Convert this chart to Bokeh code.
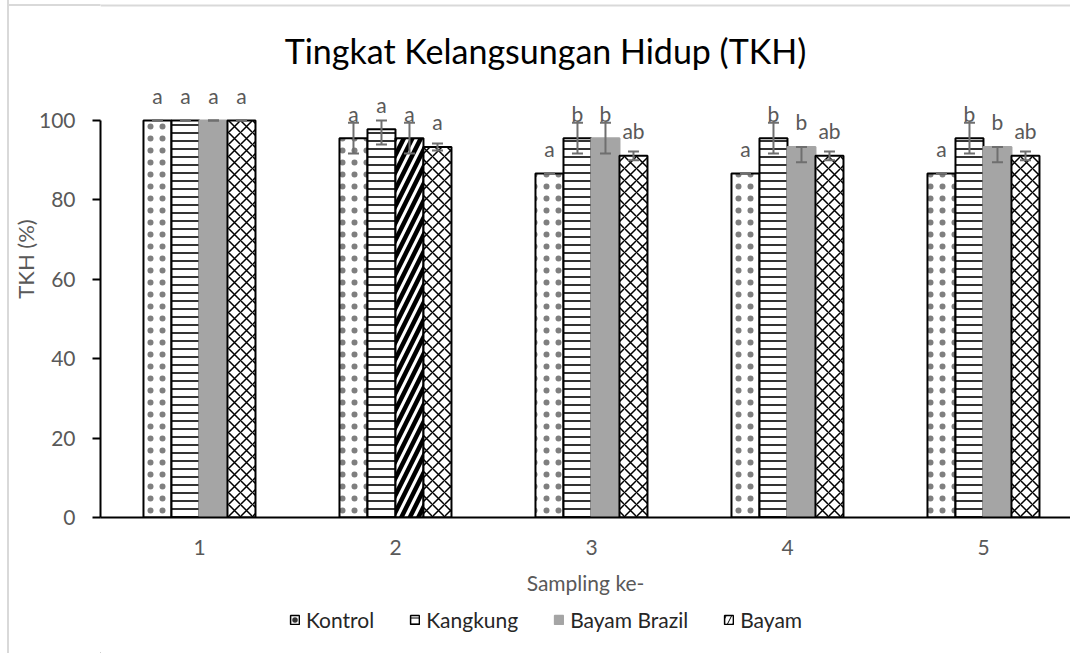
from bokeh.plotting import figure
from bokeh.layouts import column
from bokeh.models import (ColumnDataSource, Range1d, FixedTicker, Whisker, TeeHead,
                          Legend, LegendItem, Label, Span)
from bokeh.embed import file_html
from bokeh.resources import INLINE
from bokeh.core.properties import value

# ---------------- data ----------------
samplings = [1, 2, 3, 4, 5]
series_names = ["Kontrol", "Kangkung", "Bayam Brazil", "Bayam"]

kontrol = [100, 95.56, 86.67, 86.67, 86.67]
kangkung = [100, 97.78, 95.56, 95.56, 95.56]
bayam_brazil = [100, 95.56, 95.56, 93.33, 93.33]
bayam = [100, 93.33, 91.11, 91.11, 91.11]

kontrol_err_plus = [0, 3.85, 0, 0, 0]
kontrol_err_minus = [0, 3.85, 0, 0, 0]
kangkung_err_plus = [0, 3.85, 3.85, 3.85, 3.85]
kangkung_err_minus = [0, 3.85, 3.85, 3.85, 3.85]
bayam_brazil_err_plus = [0, 3.85, 3.85, 0, 0]
bayam_brazil_err_minus = [0, 3.85, 3.85, 3.85, 3.85]
bayam_err_plus = [0, 0.9, 1.1, 1.1, 1.1]
bayam_err_minus = [0, 0.9, 1.1, 1.1, 1.1]

kontrol_letters = ["a", "a", "a", "a", "a"]
kangkung_letters = ["a", "a", "b", "b", "b"]
bayam_brazil_letters = ["a", "a", "b", "b", "b"]
bayam_letters = ["a", "a", "ab", "ab", "ab"]

y_ticks = [0, 20, 40, 60, 80, 100]
AXIS_MAX = 100

title_text = "Tingkat Kelangsungan Hidup (TKH)"
x_title = "Sampling ke-"
y_title = "TKH (%)"

# ---------------- styling ----------------
FONT = "Lato"
TXT = "#595959"
ERR = "#6f6f6f"
GRAY = "#a5a5a5"
EDGE = "#d9d9d9"
BAR_W = 28 / 196
PX_PER_UNIT = 3.97
FRAME_BOTTOM = 517
FRAME_LEFT = 100

p = figure(width=1070, height=605, output_backend="svg", toolbar_location=None,
           x_range=Range1d(0.495, 0.495 + (1070 - FRAME_LEFT) / 196),
           y_range=Range1d(0, FRAME_BOTTOM / PX_PER_UNIT),
           min_border_left=FRAME_LEFT, min_border_right=0, min_border_top=0,
           min_border_bottom=605 - FRAME_BOTTOM)
p.outline_line_color = None
p.grid.visible = False
p.background_fill_color = "white"
p.border_fill_alpha = 0

# top edge of the chart-area border (inside the frame part)
p.add_layout(Span(location=(FRAME_BOTTOM - 5) / PX_PER_UNIT, dimension="width",
                  line_color=EDGE, line_width=2))

vals = [kontrol, kangkung, bayam_brazil, bayam]
eplus = [kontrol_err_plus, kangkung_err_plus, bayam_brazil_err_plus, bayam_err_plus]
eminus = [kontrol_err_minus, kangkung_err_minus, bayam_brazil_err_minus, bayam_err_minus]
letters = [kontrol_letters, kangkung_letters, bayam_brazil_letters, bayam_letters]
offsets = [-1.5, -0.5, 0.5, 1.5]

n = len(samplings)
styles = [
    dict(fill=["white"] * n, hatch=["."] * n, line=["black"] * n, scale=12, weight=0.3, alpha=0.5),
    dict(fill=["white"] * n, hatch=["-"] * n, line=["black"] * n, scale=8, weight=1.6, alpha=1.0),
    dict(fill=[GRAY, "white", GRAY, GRAY, GRAY], hatch=[" ", "/", " ", " ", " "],
         line=[GRAY, "black", GRAY, GRAY, GRAY], scale=17, weight=4.5, alpha=1.0),
    dict(fill=["white"] * n, hatch=["x"] * n, line=["black"] * n, scale=12, weight=1.5, alpha=1.0),
]
legend_styles = [
    dict(fill="white", hatch=value("."), line="black", scale=11, weight=0.5, alpha=0.8),
    dict(fill="white", hatch=value("-"), line="black", scale=6, weight=1, alpha=1.0),
    dict(fill=GRAY, hatch=value(" "), line=GRAY, scale=8, weight=1, alpha=1.0),
    dict(fill="white", hatch=value("/"), line="black", scale=11, weight=1, alpha=1.0),
]

for i, name in enumerate(series_names):
    xs = [s + offsets[i] * BAR_W for s in samplings]
    st = styles[i]
    src = ColumnDataSource(dict(x=xs, top=vals[i], fill=st["fill"], hatch=st["hatch"],
                                line=st["line"]))
    p.vbar(x="x", top="top", bottom=0, width=BAR_W, source=src,
           fill_color="fill", line_color="line", line_width=2,
           hatch_pattern="hatch", hatch_color="black", hatch_alpha=st["alpha"],
           hatch_scale=st["scale"], hatch_weight=st["weight"])

    up = [min(v + e, AXIS_MAX) for v, e in zip(vals[i], eplus[i])]
    lo = [v - e for v, e in zip(vals[i], eminus[i])]
    esrc = ColumnDataSource(dict(x=xs, upper=up, lower=lo))
    w = Whisker(base="x", upper="upper", lower="lower", dimension="height", source=esrc,
                line_color=ERR, line_width=2, level="annotation",
                upper_head=TeeHead(size=11, line_color=ERR, line_width=2),
                lower_head=TeeHead(size=11, line_color=ERR, line_width=2))
    p.add_layout(w)

    tsrc = ColumnDataSource(dict(x=xs, y=vals[i], t=letters[i]))
    p.text(x="x", y="y", text="t", source=tsrc, y_offset=-25,
           text_align="center", text_baseline="middle",
           text_font=value(FONT), text_font_size="21px", text_color=TXT)

# title
p.add_layout(Label(x=0.495 + (545 - FRAME_LEFT) / 196, y=(FRAME_BOTTOM - 50) / PX_PER_UNIT,
                   text=title_text, text_align="center", text_baseline="middle",
                   text_font=FONT, text_font_size="34px", text_color="#000000"))

# axes
xa = p.xaxis[0]
xa.ticker = FixedTicker(ticks=samplings)
xa.major_tick_out = 0
xa.major_tick_in = 0
xa.minor_tick_out = 0
xa.minor_tick_in = 0
xa.axis_line_color = "black"
xa.axis_line_width = 2
xa.major_label_text_font = FONT
xa.major_label_text_font_size = "21px"
xa.major_label_text_color = TXT
xa.major_label_standoff = 22
xa.axis_label = x_title
xa.axis_label_text_font = FONT
xa.axis_label_text_font_size = "21px"
xa.axis_label_text_font_style = "normal"
xa.axis_label_text_color = TXT
xa.axis_label_standoff = 12

ya = p.yaxis[0]
ya.ticker = FixedTicker(ticks=y_ticks)
ya.bounds = (0, AXIS_MAX)
ya.major_tick_out = 8
ya.major_tick_in = 0
ya.minor_tick_out = 0
ya.minor_tick_in = 0
ya.major_tick_line_width = 2
ya.axis_line_color = "black"
ya.axis_line_width = 2
ya.major_label_text_font = FONT
ya.major_label_text_font_size = "21px"
ya.major_label_text_color = TXT
ya.major_label_standoff = 17
ya.axis_label = y_title
ya.axis_label_text_font = FONT
ya.axis_label_text_font_size = "22px"
ya.axis_label_text_font_style = "normal"
ya.axis_label_text_color = TXT
ya.axis_label_standoff = -3

# legend strip (its frame is aligned with the main plot's frame by the column layout)
lp = figure(width=1070, height=48, output_backend="svg", toolbar_location=None,
            x_range=Range1d(0, 1), y_range=Range1d(0, 1),
            x_axis_location=None, y_axis_location=None,
            min_border_left=0, min_border_right=0, min_border_top=0, min_border_bottom=0)
lp.outline_line_color = None
lp.grid.visible = False
lp.background_fill_color = "white"
lp.border_fill_alpha = 0
items = []
for name, ls in zip(series_names, legend_styles):
    r = lp.vbar(x=[-10], top=[0], width=0.1, fill_color=ls["fill"], line_color=ls["line"],
                line_width=1.5, hatch_pattern=ls["hatch"], hatch_color="black",
                hatch_alpha=ls["alpha"], hatch_scale=ls["scale"], hatch_weight=ls["weight"])
    items.append(LegendItem(label=name, renderers=[r]))
legend = Legend(items=items, orientation="horizontal", location=(189, 21),
                glyph_width=11, glyph_height=11, label_standoff=6, spacing=35,
                label_text_font=FONT, label_text_font_size="21px", label_text_color="#262626",
                border_line_color=None, background_fill_alpha=0, padding=4, margin=0)
lp.add_layout(legend, "center")

# light chart-area border: left edge and the part of the top edge left of the frame
layout = column(p, lp, spacing=0, styles={
    "background-color": "white",
    "background-image": ("linear-gradient(to right, transparent 7px, #d9d9d9 7px, "
                         "#d9d9d9 9px, transparent 9px), "
                         "linear-gradient(to bottom, transparent 4px, #d9d9d9 4px, "
                         "#d9d9d9 6px, transparent 6px)"),
    "background-repeat": "no-repeat",
    "background-position": "0px 0px, 8px 0px",
})

open("out.html", "w").write(file_html(layout, INLINE))
